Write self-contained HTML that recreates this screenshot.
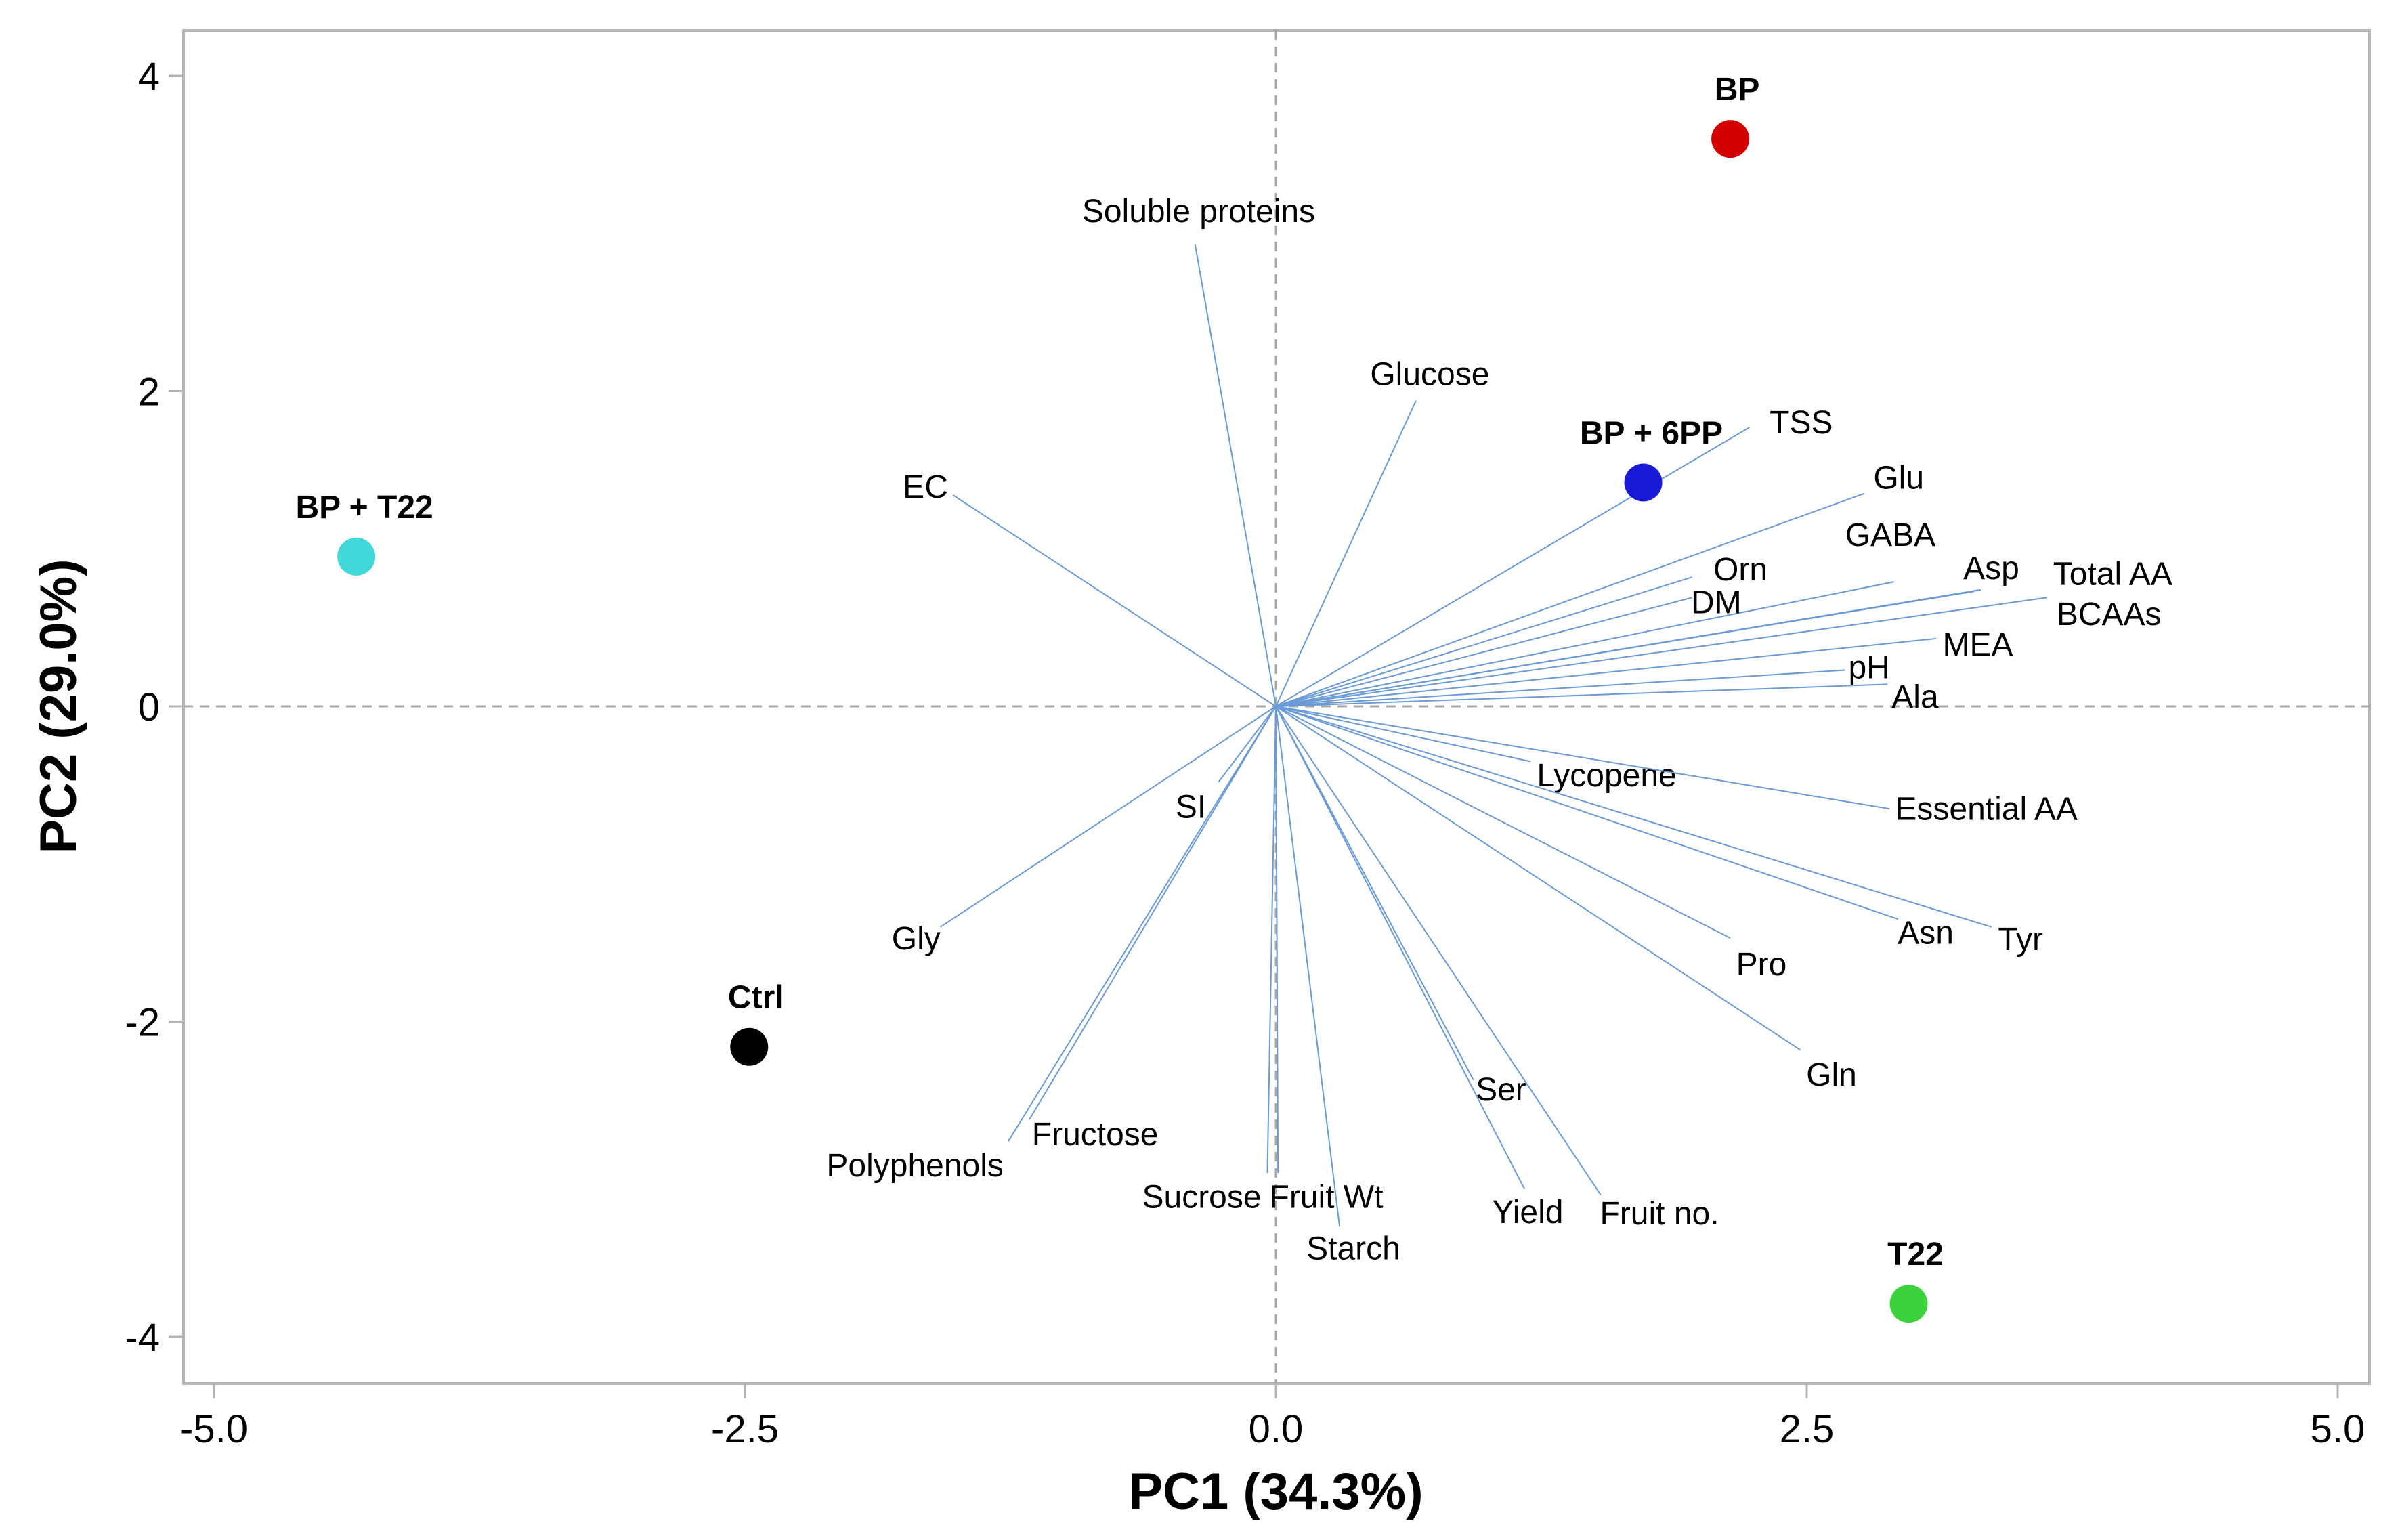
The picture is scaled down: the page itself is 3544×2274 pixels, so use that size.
<!DOCTYPE html>
<html><head><meta charset="utf-8"><style>
html,body{margin:0;padding:0;background:#fff;}
svg{display:block;font-family:"Liberation Sans",Arial,sans-serif;}
</style></head><body>
<svg id="chart" width="3544" height="2274" viewBox="0 0 3544 2274" xmlns="http://www.w3.org/2000/svg">
<rect x="271" y="45" width="3228" height="1998" fill="#fff" stroke="#b4b4b4" stroke-width="4"/>
<g id="axes"></g>
<g id="loadings"></g>
<g id="scores"></g>
<text x="1884" y="2228" text-anchor="middle" font-size="76" font-weight="bold">PC1 (34.3%)</text>
<text transform="translate(112,1043) rotate(-90)" text-anchor="middle" font-size="76" font-weight="bold">PC2 (29.0%)</text>
</svg>
<script>
const xTicks=[-5.0,-2.5,0.0,2.5,5.0];
const xTickLabels=["-5.0","-2.5","0.0","2.5","5.0"];
const yTicks=[4,2,0,-2,-4];
const yTickLabels=["4","2","0","-2","-4"];
const varNames=["Soluble proteins","Glucose","EC","TSS","Glu","GABA","Orn","DM","Asp","Total AA","BCAAs","MEA","pH","Ala","Lycopene","Essential AA","Asn","Tyr","Pro","Gln","Ser","Yield","Fruit no.","Starch","Fruit Wt","Sucrose","Fructose","Polyphenols","Gly","SI"];
const varPC1=[-0.38,0.66,-1.52,2.23,2.77,2.91,1.96,1.96,3.32,3.29,3.63,3.11,2.68,2.88,1.20,2.89,2.93,3.37,2.14,2.47,0.93,1.17,1.53,0.30,0.01,-0.04,-1.16,-1.26,-1.58,-0.27];
const varPC2=[2.93,1.94,1.34,1.77,1.35,0.79,0.82,0.69,0.74,0.73,0.69,0.43,0.23,0.14,-0.35,-0.65,-1.35,-1.40,-1.47,-2.18,-2.37,-3.06,-3.10,-3.30,-2.96,-2.96,-2.62,-2.76,-1.40,-0.48];
const labelDX=[5,20,-40,75,50,-5,70,35,15,200,90,60,35,40,110,140,40,42,45,45,40,5,85,20,70,-95,95,-135,-35,-40];
const labelDY=[-48,-38,-12,-7,-23,-68,-11,7,-31,-25,24,9,-4,18,20,0,20,18,38,36,14,34,27,32,35,35,22,35,17,36];
const groupNames=["BP","BP + 6PP","BP + T22","Ctrl","T22"];
const groupPC1=[2.14,1.73,-4.33,-2.48,2.98];
const groupPC2=[3.60,1.42,0.95,-2.16,-3.79];
const groupColors=["#d40000","#1a1ad6","#40d8d8","#000000","#3cd23c"];

const NS="http://www.w3.org/2000/svg";
const X=v=>1884+v*313.6;
const Y=v=>1043-v*232.75;
function mk(tag,attrs,parent,text){const e=document.createElementNS(NS,tag);for(const k in attrs)e.setAttribute(k,attrs[k]);if(text!==undefined)e.textContent=text;parent.appendChild(e);return e;}
const axes=document.getElementById('axes');
xTicks.forEach((t,i)=>{
 const l=mk('line',{x1:X(t),x2:X(t),y1:2043,y2:2065,stroke:'#b4b4b4','stroke-width':3},axes);
 
 
 const tx=mk('text',{x:X(t),y:2130,'text-anchor':'middle','font-size':58},axes,xTickLabels[i]);
 
 
});
yTicks.forEach((t,i)=>{
 const l=mk('line',{x1:249,x2:271,y1:Y(t),y2:Y(t),stroke:'#b4b4b4','stroke-width':3},axes);
 
 
 const tx=mk('text',{x:236,y:Y(t)+21,'text-anchor':'end','font-size':58},axes,yTickLabels[i]);
 
 
});
const zx=mk('line',{x1:X(0),x2:X(0),y1:45,y2:2043,stroke:'#a8a8a8','stroke-width':3,'stroke-dasharray':'14,10'},axes);


const zy=mk('line',{x1:271,x2:3499,y1:Y(0),y2:Y(0),stroke:'#a8a8a8','stroke-width':3,'stroke-dasharray':'14,10'},axes);



const lg=document.getElementById('loadings');
varNames.forEach((n,i)=>{
 const ex=X(varPC1[i]),ey=Y(varPC2[i]);
 const l=mk('line',{x1:X(0),y1:Y(0),x2:ex,y2:ey,stroke:'#6b9bd6','stroke-width':2},lg);
 
 
 const t=mk('text',{x:ex+labelDX[i]*2.267*0.45,y:ey+labelDY[i]*2.267*0.45+16,'text-anchor':'middle','font-size':48},lg,n);
 
 
});
const sg=document.getElementById('scores');
groupNames.forEach((n,i)=>{
 const c=mk('circle',{cx:X(groupPC1[i]),cy:Y(groupPC2[i]),r:28,fill:groupColors[i]},sg);
 
 
 const t=mk('text',{x:X(groupPC1[i])+ (i==2?12:(i==1?12:10)),y:Y(groupPC2[i])-57,'text-anchor':'middle','font-size':48,'font-weight':'bold'},sg,n);
 
 
});
</script>
</body></html>
